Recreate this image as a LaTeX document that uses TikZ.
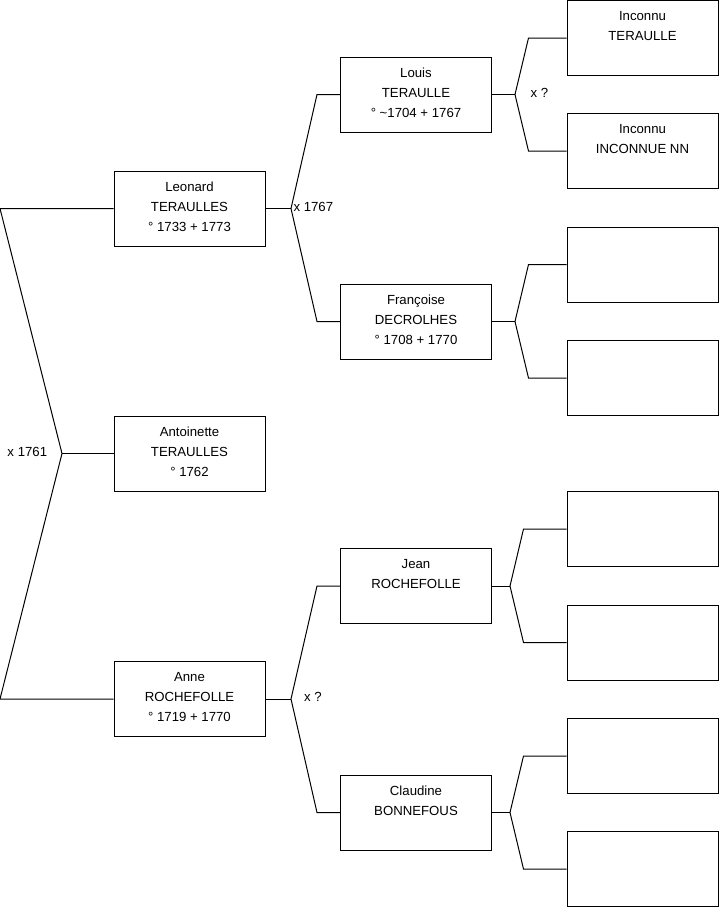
\documentclass[tikz,border=0pt]{standalone}
\usepackage{fontspec}
\setmainfont{Liberation Sans}

\tikzset{every picture/.style={line width=0.75pt}}
\tikzset{
  pbox/.style={draw, rectangle, minimum width=113.25pt, minimum height=56.25pt, inner sep=0pt},
  ptext/.style={anchor=north, align=center, inner sep=0pt, yshift=-8.2pt, font=\fontsize{9.9}{15}\selectfont},
  mlabel/.style={anchor=west, inner sep=0pt, font=\fontsize{9.9}{11}\selectfont}
}

\begin{document}
\begin{tikzpicture}[x=0.75pt,y=0.75pt,yscale=-1,xscale=1]
		\useasboundingbox (0,0) rectangle (719,908);
		\coordinate (l0) at (0,0);
		
		% Boxes, generation 1
		\node [pbox] (leonard) at (189.5,208.5) {};
		\node [pbox] (antoinette) at (189.5,453.5) {};
		\node [pbox] (anne) at (189.5,699) {};
		% Boxes, generation 2
		\node [pbox] (louis) at (416,94.5) {};
		\node [pbox] (francoise) at (416,321.5) {};
		\node [pbox] (jean) at (416,586) {};
		\node [pbox] (claudine) at (416,812.5) {};
		% Boxes, generation 3
		\node [pbox] (pa) at (642.5,38) {};
		\node [pbox] (pb) at (642.5,151) {};
		\node [pbox] (pc) at (642.5,264.5) {};
		\node [pbox] (pd) at (642.5,378) {};
		\node [pbox] (pe) at (642.5,529) {};
		\node [pbox] (pf) at (642.5,642.5) {};
		\node [pbox] (pg) at (642.5,756) {};
		\node [pbox] (ph) at (642.5,869) {};
		
		% Text Node
		\node [ptext] at (leonard.north) {Leonard\\TERAULLES\\° 1733 + 1773};
		% Text Node
		\node [ptext] at (antoinette.north) {Antoinette\\TERAULLES\\° 1762};
		% Text Node
		\node [ptext] at (anne.north) {Anne\\ROCHEFOLLE\\° 1719 + 1770};
		% Text Node
		\node [ptext] at (louis.north) {Louis\\TERAULLE\\° \textasciitilde1704 + 1767};
		% Text Node
		\node [ptext] at (francoise.north) {Françoise\\DECROLHES\\° 1708 + 1770};
		% Text Node
		\node [ptext] at (jean.north) {Jean\\ROCHEFOLLE};
		% Text Node
		\node [ptext] at (claudine.north) {Claudine\\BONNEFOUS};
		% Text Node
		\node [ptext] at (pa.north) {Inconnu\\TERAULLE};
		% Text Node
		\node [ptext] at (pb.north) {Inconnu\\INCONNUE NN};
		
		% Fork points
		\coordinate (f0) at (62,453.5);
		\coordinate (fa) at (291,208.5);
		\coordinate (fb) at (515,94.5);
		\coordinate (fc) at (515,321.5);
		\coordinate (fd) at (291,699);
		\coordinate (fe) at (510,586);
		\coordinate (ff) at (510,812.5);
		
		%Straight Lines root
		\draw (leonard.west) -- (leonard.west -| l0) -- (f0) -- (anne.west -| l0) -- (anne.west);
		\draw (f0) -- (antoinette.west);
		%Straight Lines Leonard
		\draw (leonard.east) -- (fa);
		\draw (louis.west) -- ++(-23,0) -- (fa) -- ([xshift=-17.25pt]francoise.west) -- (francoise.west);
		%Straight Lines Anne
		\draw (anne.east) -- (fd);
		\draw (jean.west) -- ++(-23,0) -- (fd) -- ([xshift=-17.25pt]claudine.west) -- (claudine.west);
		%Straight Lines Louis
		\draw (louis.east) -- (fb);
		\draw (pa.west) -- ++(-38,0) -- (fb) -- ([xshift=-28.5pt]pb.west) -- (pb.west);
		%Straight Lines Francoise
		\draw (francoise.east) -- (fc);
		\draw (pc.west) -- ++(-38,0) -- (fc) -- ([xshift=-28.5pt]pd.west) -- (pd.west);
		%Straight Lines Jean
		\draw (jean.east) -- (fe);
		\draw (pe.west) -- ++(-43,0) -- (fe) -- ([xshift=-32.25pt]pf.west) -- (pf.west);
		%Straight Lines Claudine
		\draw (claudine.east) -- (ff);
		\draw (pg.west) -- ++(-43,0) -- (ff) -- ([xshift=-32.25pt]ph.west) -- (ph.west);
		
		% Marriage labels
		\node [mlabel] (m0) at (7,451.5) {x 1761};
		\node [mlabel] (ma) at (293,207) {x 1767};
		\node [mlabel] (mb) at (530,92.5) {x ?};
		\node [mlabel] (md) at (303.5,697) {x ?};
\end{tikzpicture}
\end{document}
